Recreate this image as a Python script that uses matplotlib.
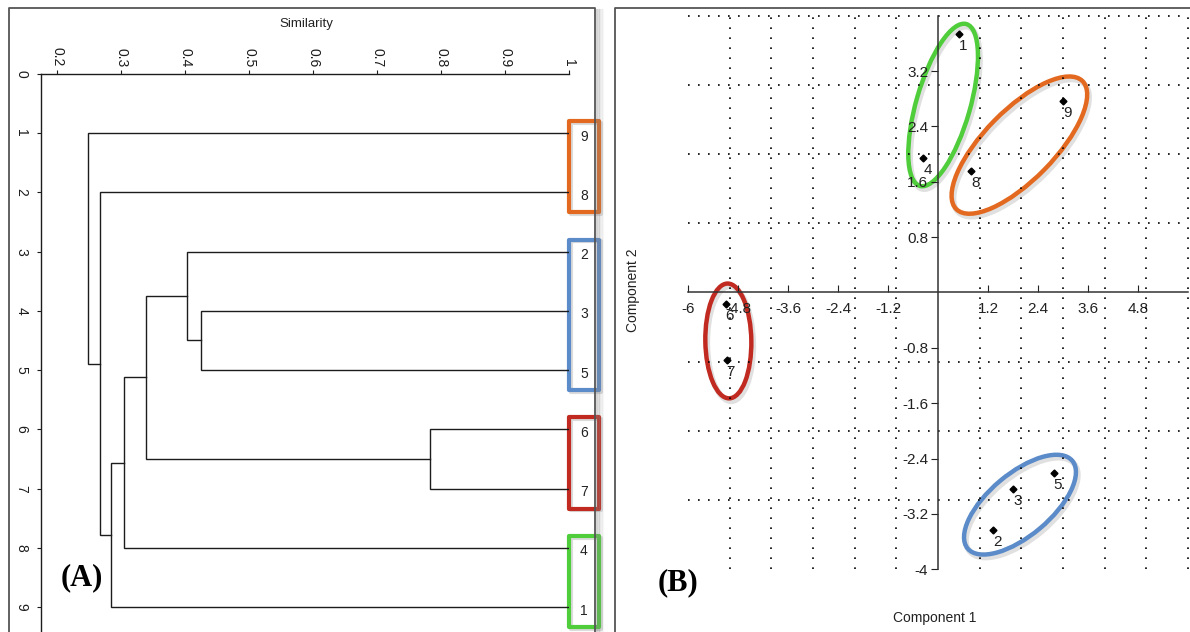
import numpy as np
import matplotlib
matplotlib.use("Agg")
import matplotlib.pyplot as plt
from matplotlib.patches import Ellipse, Rectangle
from matplotlib.lines import Line2D
from matplotlib.transforms import IdentityTransform

plt.rcParams["font.family"] = ["Liberation Sans", "DejaVu Sans"]
plt.rcParams["axes.unicode_minus"] = False

# ---- (A) dendrogram ----
leaf_labels = ["9", "8", "2", "3", "5", "6", "7", "4", "1"]
# (child, child, similarity); children 0-8 are leaves, 9+ are earlier merges
merges = [(3, 4, 0.425), (2, 9, 0.403), (5, 6, 0.783), (10, 11, 0.339),
          (12, 7, 0.304), (13, 8, 0.284), (1, 14, 0.267), (0, 15, 0.249)]
sim_ticks = [0.2, 0.3, 0.4, 0.5, 0.6, 0.7, 0.8, 0.9, 1.0]
row_ticks = [0, 1, 2, 3, 4, 5, 6, 7, 8, 9]
leaf_groups = [["9", "8"], ["2", "3", "5"], ["6", "7"], ["4", "1"]]
leaf_group_colors = ["#e2691f", "#5b8bc9", "#c12a20", "#4fcd3b"]

# ---- (B) component plot ----
pt_labels = ["1", "2", "3", "4", "5", "6", "7", "8", "9"]
comp1 = [0.50, 1.32, 1.81, -0.35, 2.78, -5.09, -5.07, 0.80, 3.01]
comp2 = [3.73, -3.43, -2.84, 1.95, -2.61, -0.16, -0.98, 1.75, 2.77]
x_ticks_b = [-6, -4.8, -3.6, -2.4, -1.2, 1.2, 2.4, 3.6, 4.8]
y_ticks_b = [-4, -3.2, -2.4, -1.6, -0.8, 0.8, 1.6, 2.4, 3.2]
pt_groups = [["1", "4"], ["9", "8"], ["6", "7"], ["2", "3", "5"]]
pt_group_colors = ["#4fcd3b", "#e2691f", "#c12a20", "#5b8bc9"]
# hand-drawn look: padding along long axis, half-width (px), extra turn (deg)
ell_pad = [12, 28, 20, 22]
ell_half = [27, 35, 23, 31]
ell_rot = [0, 8, 0, -3]

W, H = 1190, 632
fig = plt.figure(figsize=(W / 100, H / 100), dpi=100)
LINE = "#1c1c1c"
FRAME = "#555555"


def fig_line(xs, ys, **kw):
    fig.add_artist(Line2D([x / W for x in xs], [1 - y / H for y in ys],
                          transform=fig.transFigure, **kw))


# panel frames + soft shadow
fig_line([9, 9, 595, 595], [640, 7.5, 7.5, 640], color=FRAME, lw=1.3)
for i, a in enumerate([0.35, 0.25, 0.17, 0.1, 0.05]):
    fig_line([597 + i * 1.5] * 2, [10, 640], color="#888888", lw=1.5, alpha=a)
fig_line([615, 615, 1195], [640, 7.5, 7.5], color=FRAME, lw=1.3)

# ================= (A) =================
row_px = 59.25
axA = fig.add_axes([41 / W, 0, 528 / W, (H - 73.75) / H])
axA.set_xlim(0.175, 1.0)
axA.set_ylim((H - 73.75) / row_px, 0)

pos = {i: (1.0, i + 1) for i in range(len(leaf_labels))}
for k, (a, b, s) in enumerate(merges):
    xa, ya = pos[a]
    xb, yb = pos[b]
    axA.plot([xa, s, s, xb], [ya, ya, yb, yb], color=LINE, lw=1.0,
             solid_joinstyle="miter")
    pos[len(leaf_labels) + k] = (s, (ya + yb) / 2)

for i, lab in enumerate(leaf_labels):
    axA.text(1.0234, i + 1.06, lab, ha="center", va="center", fontsize=10,
             color="#222222", clip_on=False)

box_w = 30 / 640
for grp, col in zip(leaf_groups, leaf_group_colors):
    rows = [leaf_labels.index(l) + 1 for l in grp]
    top, bot = min(rows) - 0.2, max(rows) + 0.34
    axA.add_patch(Rectangle((1.0 + 0.003, top + 0.03), box_w, bot - top,
                            fill=False, ec="#999999", lw=3, alpha=0.35,
                            joinstyle="round", clip_on=False))
    axA.add_patch(Rectangle((1.0, top), box_w, bot - top, fill=False, ec=col,
                            lw=3, joinstyle="round", clip_on=False))

for sp in ["right", "bottom"]:
    axA.spines[sp].set_visible(False)
for sp in ["top", "left"]:
    axA.spines[sp].set_color(LINE)
    axA.spines[sp].set_linewidth(1.0)
axA.xaxis.tick_top()
axA.set_xticks(sim_ticks)
axA.set_xticklabels([f"{v:g}" for v in sim_ticks], rotation=-90, fontsize=10)
axA.set_yticks(row_ticks)
axA.set_yticklabels([str(v) for v in row_ticks], rotation=-90, fontsize=10,
                    va="center")
axA.tick_params(axis="x", direction="out", length=3, pad=2, colors=LINE)
axA.tick_params(axis="y", direction="out", length=3, pad=6, colors=LINE)
axA.patch.set_visible(False)

fig.text(306 / W, 1 - 24 / H, "Similarity", ha="center", va="center",
         fontsize=9.5, color="#222222")
fig.text(82 / W, 1 - 578 / H, "(A)", ha="center", va="center", fontsize=22,
         fontweight="bold", family="Liberation Serif")

# ================= (B) =================
axB = fig.add_axes([688 / W, (H - 569.3) / H, 500 / W, 553.6 / H])
axB.set_xlim(-6, 6)
axB.set_ylim(-4, 4)
axB.patch.set_visible(False)

dots = (0, (1, 5))
axB.hlines([-3, -2, -1, 1, 2, 3, 4], -6, 6, colors="k", lw=1.2,
           linestyles=dots, clip_on=False)
axB.vlines([-5, -4, -3, -2, -1, 1, 2, 3, 4, 5, 6], -4, 4, colors="k", lw=1.2,
           linestyles=dots, clip_on=False)

for sp in ["top", "right"]:
    axB.spines[sp].set_visible(False)
for sp in ["left", "bottom"]:
    axB.spines[sp].set_position(("data", 0))
    axB.spines[sp].set_color("#333333")
    axB.spines[sp].set_linewidth(1.1)
axB.set_xticks(x_ticks_b)
axB.set_xticklabels([f"{v:g}" for v in x_ticks_b], fontsize=11)
axB.set_yticks(y_ticks_b)
axB.set_yticklabels([f"{v:g}" for v in y_ticks_b], fontsize=11)
axB.tick_params(axis="x", direction="in", length=5, pad=7, colors="#222222")
axB.tick_params(axis="y", direction="out", length=5, pad=2, colors="#222222")

axB.plot(comp1, comp2, ls="none", marker="D", ms=3.5, color="k")
lab_off = np.array([4.0, -12.0])
for lab, x, y in zip(pt_labels, comp1, comp2):
    axB.annotate(lab, (x, y), xytext=lab_off, textcoords="offset pixels",
                 ha="center", va="center", fontsize=11, color="#222222")

# group ellipses, worked out in pixel space around points and their labels
disp = axB.transData.transform(np.column_stack([comp1, comp2]))
for grp, col, pad, half, rot in zip(pt_groups, pt_group_colors, ell_pad,
                                    ell_half, ell_rot):
    P = disp[[pt_labels.index(l) for l in grp]]
    d = P[:, None, :] - P[None, :, :]
    i, j = np.unravel_index(np.argmax((d ** 2).sum(-1)), d.shape[:2])
    u = (P[i] - P[j]) / np.linalg.norm(P[i] - P[j])
    v = np.array([-u[1], u[0]])
    Q = np.vstack([P, P + lab_off + [0, -6]])
    pu, pv = Q @ u, Q @ v
    c = u * (pu.min() + pu.max()) / 2 + v * (pv.min() + pv.max()) / 2
    a = (pu.max() - pu.min()) / 2 + pad
    ang = np.degrees(np.arctan2(u[1], u[0])) + rot
    axB.add_patch(Ellipse(c + [2, -3], 2 * a, 2 * half, angle=ang, fill=False,
                          ec="#999999", lw=4, alpha=0.3,
                          transform=IdentityTransform(), clip_on=False))
    axB.add_patch(Ellipse(c, 2 * a, 2 * half, angle=ang, fill=False, ec=col,
                          lw=3.2, transform=IdentityTransform(), clip_on=False))

fig.text(935 / W, 1 - 618 / H, "Component 1", ha="center", va="center",
         fontsize=10, color="#222222")
fig.text(633 / W, 1 - 290 / H, "Component 2", ha="center", va="center",
         fontsize=10, rotation=90, color="#222222")
fig.text(678 / W, 1 - 583 / H, "(B)", ha="center", va="center", fontsize=22,
         fontweight="bold", family="Liberation Serif")

fig.savefig("out.png", dpi=100)
